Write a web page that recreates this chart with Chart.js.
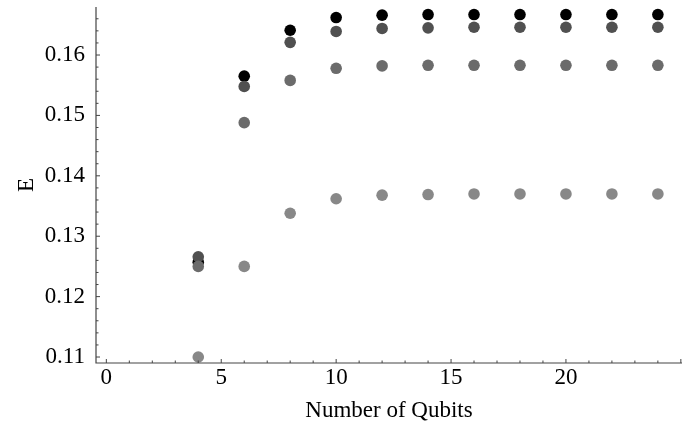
<!DOCTYPE html>
<html>
<head>
<meta charset="utf-8">
<script src="https://cdn.jsdelivr.net/npm/chart.js@4.4.0/dist/chart.umd.min.js"></script>
<style>
  html, body { margin: 0; padding: 0; background: #fff; }
  #wrap { width: 682px; height: 433px; }
</style>
</head>
<body>
<div id="wrap"><canvas id="chart" width="682" height="433"></canvas></div>
<script>
// ---- data ----
const qubits = [4, 6, 8, 10, 12, 14, 16, 18, 20, 22, 24];
const seriesBlack  = [0.1257, 0.1565, 0.1641, 0.1662, 0.1666, 0.1667, 0.1667, 0.1667, 0.1667, 0.1667, 0.1667];
const seriesDark   = [0.1266, 0.1548, 0.1621, 0.1639, 0.1644, 0.1645, 0.1646, 0.1646, 0.1646, 0.1646, 0.1646];
const seriesMedium = [0.1250, 0.1488, 0.1558, 0.1578, 0.1582, 0.1583, 0.1583, 0.1583, 0.1583, 0.1583, 0.1583];
const seriesLight  = [0.1100, 0.1250, 0.1338, 0.1362, 0.1368, 0.1369, 0.1370, 0.1370, 0.1370, 0.1370, 0.1370];

const xTicks = [0, 5, 10, 15, 20];
const yTicks = [0.11, 0.12, 0.13, 0.14, 0.15, 0.16];
const xMinorStep = 1;
const yMinorStep = 0.002;

function toPoints(ys) {
  return qubits.map(function (q, i) { return { x: q, y: ys[i] }; });
}

// inward ticks + axis lines, Mathematica style
const axesPlugin = {
  id: 'axesPlugin',
  afterDraw: function (chart) {
    const ctx = chart.ctx;
    const area = chart.chartArea;
    const xs = chart.scales.x;
    const ys = chart.scales.y;
    ctx.save();
    ctx.strokeStyle = '#444';
    ctx.lineWidth = 1.2;
    ctx.beginPath();
    ctx.moveTo(area.left, area.top);
    ctx.lineTo(area.left, area.bottom);
    ctx.lineTo(area.right, area.bottom);
    ctx.stroke();

    ctx.lineWidth = 1;
    ctx.beginPath();
    for (let v = 0; v <= xs.max; v += xMinorStep) {
      const px = xs.getPixelForValue(v);
      const len = (v % 5 === 0) ? 4 : 2.5;
      ctx.moveTo(px, area.bottom);
      ctx.lineTo(px, area.bottom - len);
    }
    for (let k = 0; ; k++) {
      const v = 0.11 + k * yMinorStep;
      if (v > ys.max) break;
      const py = ys.getPixelForValue(v);
      const len = (k % 5 === 0) ? 4 : 2.5;
      ctx.moveTo(area.left, py);
      ctx.lineTo(area.left + len, py);
    }
    ctx.stroke();
    ctx.restore();
  }
};

const serif = 'Liberation Serif';

new Chart(document.getElementById('chart').getContext('2d'), {
  type: 'scatter',
  data: {
    datasets: [
      { label: 'light',  data: toPoints(seriesLight),  backgroundColor: '#888888' },
      { label: 'medium', data: toPoints(seriesMedium), backgroundColor: '#6b6b6b' },
      { label: 'dark',   data: toPoints(seriesDark),   backgroundColor: '#505050' },
      { label: 'black',  data: toPoints(seriesBlack),  backgroundColor: '#000000' }
    ]
  },
  options: {
    responsive: false,
    animation: false,
    layout: { autoPadding: false, padding: { top: 7, right: 0, left: 0, bottom: 0 } },
    elements: { point: { radius: 5.8, borderWidth: 0, hoverRadius: 5.8 } },
    scales: {
      x: {
        type: 'linear',
        min: -0.45,
        max: 25.05,
        grid: { display: false, drawTicks: false },
        border: { display: false },
        afterBuildTicks: function (s) { s.ticks = xTicks.map(function (v) { return { value: v }; }); },
        afterFit: function (s) { s.height = 70; s.paddingLeft = 0; s.paddingRight = 0; },
        ticks: { color: '#000', padding: 1, font: { family: serif, size: 23 }, maxRotation: 0 },
        title: { display: true, text: 'Number of Qubits', color: '#000', font: { family: serif, size: 23 }, padding: { top: 0, bottom: 8 } }
      },
      y: {
        type: 'linear',
        min: 0.10901,
        max: 0.16795,
        grid: { display: false, drawTicks: false },
        border: { display: false },
        afterBuildTicks: function (s) { s.ticks = yTicks.map(function (v) { return { value: v }; }); },
        afterFit: function (s) { s.width = 96; s.paddingTop = 0; s.paddingBottom = 0; },
        ticks: { color: '#000', padding: 11, font: { family: serif, size: 23 }, callback: function (v) { return v.toFixed(2); } },
        title: { display: true, text: 'E', color: '#000', font: { family: serif, size: 23 }, padding: { top: 13, bottom: 0 } }
      }
    },
    plugins: {
      legend: { display: false },
      tooltip: { enabled: false }
    }
  },
  plugins: [axesPlugin]
});
</script>
</body>
</html>
